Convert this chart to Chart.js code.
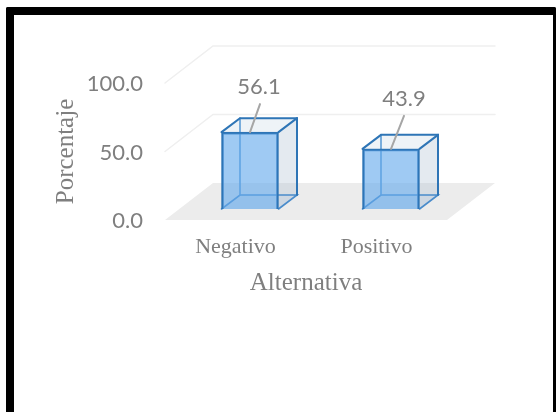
<!DOCTYPE html>
<html>
<head>
<meta charset="utf-8">
<script src="https://cdn.jsdelivr.net/npm/chart.js@4"></script>
<style>
  html, body { margin: 0; padding: 0; background: #fff; overflow: hidden; }
  #frame { position: absolute; left: 6px; top: 7px; width: 539px; height: 405px; border: solid #000; border-width: 8px 3px 0 8px; border-radius: 2px 2px 0 0; }
  #c { position: absolute; left: 0; top: 0; }
</style>
</head>
<body>
<div id="frame"></div>
<canvas id="c" width="556" height="412"></canvas>
<script>
const categories = ['Negativo', 'Positivo'];
const porcentaje = [56.1, 43.9];
const valueTicks = [0, 50, 100];

// leader line and label offsets for each bar, from the middle of the top front edge
const labelOffsets = [[9, -45], [13, -50]];

// depth of the fake 3d box
const floorDepth = { x: 48, y: -37 };
const barShift = { x: 14.5, y: -11 };
const barDepth = { x: 18.5, y: -14 };

function poly(ctx, pts, fill, stroke, lw) {
  ctx.beginPath();
  pts.forEach(function(p, i) { i ? ctx.lineTo(p[0], p[1]) : ctx.moveTo(p[0], p[1]); });
  if (fill) { ctx.closePath(); ctx.fillStyle = fill; ctx.fill(); }
  if (stroke) { ctx.strokeStyle = stroke; ctx.lineWidth = lw; ctx.lineCap = 'round'; ctx.stroke(); }
}

const fake3d = {
  id: 'fake3d',
  beforeDatasetsDraw(chart) {
    const ctx = chart.ctx, a = chart.chartArea, y = chart.scales.y;
    const dx = floorDepth.x, dy = floorDepth.y;
    ctx.save();
    // floor
    poly(ctx, [[a.left, a.bottom], [a.right, a.bottom], [a.right + dx, a.bottom + dy], [a.left + dx, a.bottom + dy]], '#ececec');
    // walls
    valueTicks.slice(1).forEach(function(v) {
      const p = y.getPixelForValue(v);
      poly(ctx, [[a.left, p], [a.left + dx, p + dy], [a.right + dx, p + dy]], null, '#efefef', 1.5);
    });
    // back faces of the boxes
    chart.getDatasetMeta(0).data.forEach(function(b) {
      const l = b.x - b.width / 2 + barShift.x, r = b.x + b.width / 2 + barShift.x;
      const t = b.y + barShift.y, u = b.base + barShift.y;
      const bx = barDepth.x, by = barDepth.y;
      poly(ctx, [[l, t], [r, t], [r + bx, t + by], [l + bx, t + by]], 'rgba(200,215,230,0.3)');
      poly(ctx, [[r, t], [r + bx, t + by], [r + bx, u + by], [r, u]], 'rgba(165,185,205,0.3)');
      poly(ctx, [[l, u], [r, u], [r + bx, u + by], [l + bx, u + by]], 'rgba(91,155,213,0.08)');
      poly(ctx, [[l, u], [l + bx, u + by], [r + bx, u + by], [r, u]], null, '#4a8ccb', 1.6);
      poly(ctx, [[l + bx, u + by], [l + bx, t + by]], null, '#5b9bd5', 1.6);
      poly(ctx, [[l, t], [l + bx, t + by], [r + bx, t + by], [r + bx, u + by]], null, '#2e75b6', 2);
      poly(ctx, [[r, t], [r + bx, t + by]], null, '#2e75b6', 2);
    });
    ctx.restore();
    ctx.save();
    ctx.translate(barShift.x, barShift.y);
  },
  afterDatasetsDraw(chart) {
    const ctx = chart.ctx;
    ctx.restore();
    ctx.save();
    chart.getDatasetMeta(0).data.forEach(function(b, i) {
      const sx = b.x + barShift.x, sy = b.y + barShift.y;
      const ox = labelOffsets[i][0], oy = labelOffsets[i][1];
      poly(ctx, [[sx, sy], [sx + ox + (i ? 0 : 1), sy + oy + 17]], null, '#a6a6a6', 2);
      ctx.font = '22px Lato';
      ctx.fillStyle = '#7f7f7f';
      ctx.textAlign = 'center';
      ctx.textBaseline = 'middle';
      ctx.fillText(porcentaje[i].toFixed(1), sx + ox, sy + oy);
    });
    ctx.restore();
  }
};

new Chart(document.getElementById('c'), {
  type: 'bar',
  plugins: [fake3d],
  data: {
    labels: categories,
    datasets: [{
      data: porcentaje,
      backgroundColor: 'rgba(100,170,235,0.62)',
      borderColor: '#2e75b6',
      borderWidth: 2,
      barThickness: 57,
      clip: false
    }]
  },
  options: {
    responsive: false,
    animation: false,
    layout: { padding: { left: 51, top: 83, right: 109, bottom: 114 } },
    plugins: { legend: { display: false }, tooltip: { enabled: false } },
    scales: {
      x: {
        grid: { display: false },
        border: { display: false },
        ticks: { color: '#7f7f7f', font: { family: 'Liberation Serif', size: 22 }, padding: 6, maxRotation: 0 },
        title: { display: true, text: 'Alternativa', color: '#7f7f7f', font: { family: 'Liberation Serif', size: 25 }, padding: { top: 2, bottom: 0 } },
        afterFit(s) { s.height = 78; }
      },
      y: {
        min: 0,
        max: 100,
        grid: { display: false },
        border: { display: false },
        afterBuildTicks(s) { s.ticks = valueTicks.map(function(v) { return { value: v }; }); },
        ticks: { color: '#7f7f7f', font: { family: 'Lato', size: 22 }, padding: 14, labelOffset: 1, callback: function(v) { return v.toFixed(1); } },
        title: { display: true, text: 'Porcentaje', color: '#7f7f7f', font: { family: 'Liberation Serif', size: 25 }, padding: { top: 0, bottom: 0 } },
        afterFit(s) { s.width = 114; }
      }
    }
  }
});
</script>
</body>
</html>
